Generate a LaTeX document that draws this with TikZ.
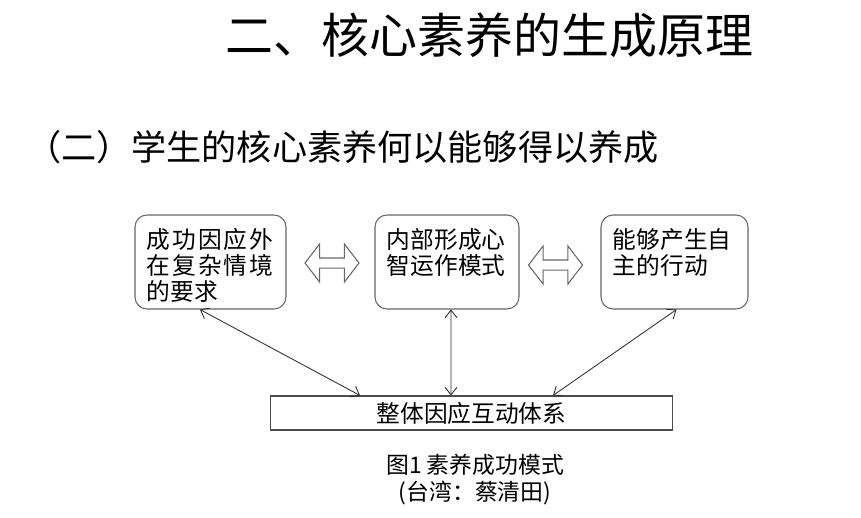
\documentclass[tikz,border=0pt]{standalone}
\usepackage{fontspec}
\setmainfont{Noto Sans CJK SC}
\usetikzlibrary{arrows.meta,shapes.arrows,positioning}

\begin{document}
\begin{tikzpicture}[
		x=0.02cm, y=-0.02cm,
		% Estilos: cajas redondeadas, texto de las cajas, flechas huecas y conectores
		caseBox/.style={draw=black!60, line width=0.6pt, rounded corners=0.24cm, minimum height=1.88cm, inner sep=0pt},
		boxText/.style={anchor=north west, align=left, inner sep=0pt, font=\fontsize{13.5}{14.8}\selectfont},
		swapArrow/.style={double arrow, draw=black!60, line width=0.6pt, inner xsep=0pt, inner ysep=0.09cm,
			double arrow head extend=0.28cm, double arrow tip angle=105, minimum height=1.08cm},
		linkArrow/.style={{Straight Barb[length=1.5mm,width=2.4mm]}-{Straight Barb[length=1.5mm,width=2.4mm]}, black!80, line width=0.5pt}
	]
	\useasboundingbox (0,0) rectangle (861,517);

	% --- 1. Títulos ---
	\node (title) at (489.5,35) {\fontsize{27.3}{30}\selectfont 二、核心素养的生成原理};
	\node[anchor=east, inner sep=0pt] (sub) at (659,147) {\fontsize{20}{22}\selectfont （二）学生的核心素养何以能够得以养成};

	% --- 2. Cajas superiores ---
	\node[caseBox, minimum width=3.02cm] (ext) at (210.5,262) {};
	\node[caseBox, minimum width=2.88cm] (core) at (447,262) {};
	\node[caseBox, minimum width=2.94cm] (act) at (674.5,262) {};

	% la primera caja va justificada: sus dos primeras líneas son más anchas
	\node[boxText] (extT) at ([xshift=0.24cm, yshift=-0.27cm]ext.north west)
		{{\addfontfeature{LetterSpace=8}成功因应外}\\{\addfontfeature{LetterSpace=8}在复杂情境}\\的要求};
	\node[boxText] (coreT) at ([xshift=0.24cm, yshift=-0.27cm]core.north west) {内部形成心\\智运作模式};
	\node[boxText] (actT) at ([xshift=0.24cm, yshift=-0.27cm]act.north west) {能够产生自\\主的行动};

	% Flechas huecas entre las cajas
	\node[swapArrow] (ab) at (332,263) {};
	\node[swapArrow] (bc) at (555.5,265) {};

	% --- 3. Caja inferior y conexiones ---
	\node[draw=black!70, line width=0.6pt, minimum width=8.06cm, minimum height=0.68cm, inner sep=0pt,
		font=\fontsize{13.5}{14.8}\selectfont] (sys) at (471.5,413) {整体因应互动体系};

	\draw[linkArrow] ([xshift=-0.21cm]ext.south) -- ([xshift=-2.23cm]sys.north);
	\draw[linkArrow] ([xshift=0.08cm]core.south) -- ([xshift=-0.41cm]sys.north);
	\draw[linkArrow] ([xshift=0.04cm]act.south) -- ([xshift=1.63cm]sys.north);

	% --- 4. Pie de figura ---
	\node[align=center, font=\fontsize{13}{15.4}\selectfont] (cap) at (475,480) {图1 素养成功模式\\(台湾：蔡清田)};

\end{tikzpicture}
\end{document}
